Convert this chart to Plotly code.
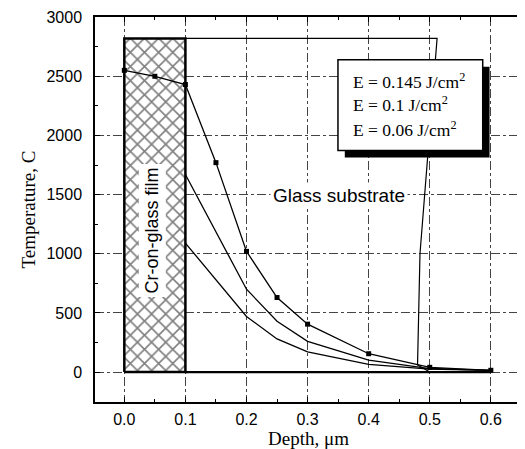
import plotly.graph_objects as go

# ---- data ----
depth_145 = [0.0, 0.05, 0.1, 0.15, 0.2, 0.25, 0.3, 0.4, 0.5, 0.6]
temp_145 = [2550, 2500, 2430, 1770, 1020, 630, 405, 155, 40, 15]
depth_10 = [0.1, 0.2, 0.25, 0.3, 0.4, 0.5, 0.6]
temp_10 = [1670, 700, 430, 260, 100, 30, 15]
depth_06 = [0.1, 0.2, 0.25, 0.3, 0.4, 0.5, 0.6]
temp_06 = [1090, 470, 280, 170, 65, 25, 15]

film_x = [0.0, 0.1, 0.1, 0.0, 0.0]
film_y = [0, 0, 2820, 2820, 0]
substrate_x = [0.1, 0.512, 0.484, 0.48, 0.5]
substrate_y = [2820, 2820, 1000, 60, 0]
baseline_x = [0.1, 0.6]
baseline_y = [0, 0]

legend_labels = ["E = 0.145 J/cm<sup>2</sup>", "E = 0.1 J/cm<sup>2</sup>", "E = 0.06 J/cm<sup>2</sup>"]
x_ticks = [0.0, 0.1, 0.2, 0.3, 0.4, 0.5, 0.6]
y_ticks = [0, 500, 1000, 1500, 2000, 2500, 3000]

fig = go.Figure()

# hatched film
fig.add_trace(go.Scatter(
    x=film_x, y=film_y, mode="lines", fill="toself", fillcolor="white",
    fillpattern=dict(shape="x", fgcolor="black", bgcolor="white", size=10, solidity=0.3),
    line=dict(color="black", width=2.5), hoverinfo="skip", showlegend=False))

# substrate outline
fig.add_trace(go.Scatter(x=substrate_x, y=substrate_y, mode="lines",
                         line=dict(color="black", width=1.2), showlegend=False))
fig.add_trace(go.Scatter(x=baseline_x, y=baseline_y, mode="lines",
                         line=dict(color="black", width=2.2), showlegend=False))

fig.add_trace(go.Scatter(x=depth_06, y=temp_06, mode="lines",
                         line=dict(color="black", width=1.3), showlegend=False))
fig.add_trace(go.Scatter(x=depth_10, y=temp_10, mode="lines",
                         line=dict(color="black", width=1.3), showlegend=False))
fig.add_trace(go.Scatter(x=depth_145, y=temp_145, mode="lines+markers",
                         line=dict(color="black", width=1.3),
                         marker=dict(symbol="square", size=5, color="black"),
                         showlegend=False))

# vertical film label
fig.add_annotation(x=0.046, y=1200, text="Cr-on-glass film", textangle=-90, showarrow=False,
                   font=dict(family="Liberation Sans, Arial", size=18, color="black"),
                   bgcolor="white", borderpad=3)
fig.add_annotation(x=0.352, y=1492, text="Glass substrate", showarrow=False,
                   font=dict(family="Liberation Sans, Arial", size=19, color="black"),
                   bgcolor="white", borderpad=2)

# legend box with shadow (paper coords)
fig.add_shape(type="rect", xref="paper", yref="paper", x0=0.585, x1=0.924, y0=0.635, y1=0.871,
              fillcolor="black", line=dict(width=0))
fig.add_shape(type="rect", xref="paper", yref="paper", x0=0.569, x1=0.908, y0=0.653, y1=0.889,
              fillcolor="white", line=dict(color="black", width=1.5))
legend_y = [0.835, 0.773, 0.71]
for lab, ly in zip(legend_labels, legend_y):
    fig.add_annotation(xref="paper", yref="paper", x=0.6, y=ly, xanchor="left", yanchor="middle",
                       text=lab, showarrow=False,
                       font=dict(family="Liberation Serif, Times New Roman", size=17.5, color="black"))

axis_common = dict(showline=True, linecolor="black", linewidth=1.5, mirror="ticks",
                   ticks="inside", ticklen=5, tickcolor="black",
                   showgrid=True, gridcolor="#444", griddash="dashdot", gridwidth=1,
                   zeroline=False, ticklabeloverflow="allow",
                   tickfont=dict(family="Liberation Sans, Arial", size=16, color="black"),
                   minor=dict(ticks="inside", ticklen=3, tickcolor="black", showgrid=False))

fig.update_xaxes(range=[-0.048, 0.651], tickvals=x_ticks, ticktext=[f"{v:.1f}" for v in x_ticks],
                 minor_dtick=0.05, ticklabelstandoff=2,
                 title=dict(text="Depth, \u03bcm", font=dict(family="Liberation Serif, Times New Roman", size=19, color="black"), standoff=4),
                 **axis_common)
fig.update_yaxes(range=[-253, 3001], tickvals=y_ticks,
                 minor_dtick=250, ticklabelstandoff=8,
                 title=dict(text="Temperature, C", font=dict(family="Liberation Serif, Times New Roman", size=19, color="black"), standoff=6),
                 **axis_common)

# page body has an 8px margin: shrink the figure so the plot area lands where the reference has it
fig.update_layout(width=517, height=441, margin=dict(l=87, r=1, t=8, b=47),
                  plot_bgcolor="white", paper_bgcolor="white", showlegend=False)

fig.write_html("out.html")
